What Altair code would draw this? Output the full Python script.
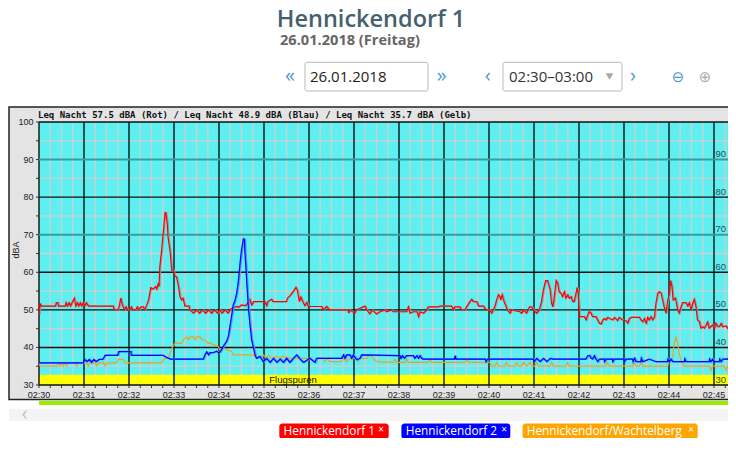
import altair as alt
import pandas as pd

# ---------------- data (seconds after 02:30:00, dBA) ----------------
red_t = [0, 1.5, 3, 22, 23, 25, 26, 35, 36, 38, 40, 42, 44, 47, 49, 51, 53, 55, 57, 59, 61, 63, 66, 99, 100, 105,
         107, 109, 111, 112, 114, 116, 118, 121, 123, 125, 129, 131, 133, 136, 139, 141, 143, 146, 149, 152, 155.5,
         157, 159, 160, 161, 163.5, 166, 168, 169, 171, 172, 175, 177, 179, 181, 183.5, 186, 188, 190, 192, 194.5,
         200, 201, 206, 210, 214, 218, 222, 226, 230, 234, 238, 241, 244, 248, 252, 254.5, 257, 263.5, 266, 270,
         275, 279, 281, 283.5, 286, 301, 303.5, 305, 310, 312, 330, 331, 334.5, 339, 342.5, 344.5, 347, 349, 351.5,
         354.5, 357, 359, 377, 379, 383.5, 387, 412, 413, 414, 421, 423, 434.5, 437, 441, 444, 450, 454.5, 461, 463,
         470, 472, 490, 492.5, 494.5, 499, 504, 506, 508, 512.5, 517, 519, 532.5, 534.5, 550, 552.5, 554.5, 561, 563,
         568, 570, 574.5, 577, 579, 583.5, 586, 592.5, 596, 601, 603.5, 606, 608, 610, 612.5, 614.5, 615.5, 617.5,
         620, 622.5, 624.5, 628, 630, 641, 643.5, 646, 650, 654, 657, 659, 663.5, 667, 670, 672.5, 675.5, 678, 681.5,
         683.5, 685, 686.5, 689.5, 691.5, 693.5, 696, 698, 700.5, 702.5, 705, 707, 709.5, 711.5, 713.5, 716, 717.5,
         719, 720.5, 727, 729.5, 731.5, 733.5, 736, 738, 742.5, 747, 749.5, 751.5, 753.5, 756, 758, 760.5, 765, 767,
         771.5, 773.5, 778, 782.5, 785, 787, 789.5, 800.5, 802.5, 805, 807, 809.5, 811.5, 813.5, 816, 818, 820.5,
         822.5, 825, 827, 829.5, 831.5, 833.5, 836, 838, 840.5, 842, 844, 845.5, 848.5, 850, 851.5, 853.5, 856, 858,
         862.5, 865, 867, 869.5, 871.5, 873.5, 876, 878, 880.5, 882.5, 885, 887, 889.5, 891.5, 893.5, 898, 900.5,
         902.5, 905, 907, 909.5, 911.5, 916, 918, 920.5, 922.5, 925, 927, 929.3]
red_v = [48.6, 51.7, 51.0, 51.0, 51.9, 51.9, 51.0, 51.0, 51.9, 51.0, 51.9, 51.0, 51.9, 53.1, 51.0, 51.9, 51.0, 51.9,
         51.0, 51.9, 51.0, 51.9, 51.0, 51.0, 50.0, 50.0, 51.0, 53.1, 51.5, 50.8, 50.0, 50.8, 50.0, 50.0, 50.8, 50.0,
         50.0, 50.8, 50.0, 50.8, 50.8, 50.0, 51.0, 52.6, 55.9, 55.5, 56.2, 55.5, 57.1, 56.2, 61.3, 66.0, 71.3, 75.9,
         75.9, 73.1, 69.5, 65.1, 60.6, 60.6, 59.0, 58.7, 56.2, 53.5, 52.6, 53.1, 51.0, 51.0, 50.0, 49.1, 50.0, 49.1,
         50.0, 49.1, 50.0, 49.1, 50.0, 49.1, 50.0, 49.1, 50.0, 49.1, 50.0, 50.4, 50.9, 50.7, 51.3, 51.1, 52.0, 52.8,
         51.3, 52.2, 52.2, 51.1, 52.2, 52.8, 52.2, 52.2, 53.1, 53.7, 54.9, 56.0, 55.2, 52.2, 53.4, 52.2, 51.1, 52.0,
         50.9, 50.9, 50.0, 50.9, 50.0, 50.0, 49.1, 50.0, 49.1, 50.0, 51.0, 50.0, 48.9, 50.0, 48.9, 49.5, 50.0, 49.5,
         50.0, 49.5, 49.5, 50.8, 49.1, 49.5, 49.5, 48.2, 49.5, 49.1, 50.0, 50.8, 50.8, 51.0, 51.0, 50.0, 50.8, 50.8,
         50.0, 50.0, 50.8, 52.2, 52.8, 52.2, 52.2, 51.0, 51.0, 50.0, 50.0, 49.1, 50.1, 51.0, 52.6, 54.0, 53.5, 52.6,
         54.0, 52.2, 51.0, 50.0, 49.1, 50.0, 49.5, 49.1, 50.0, 49.1, 50.8, 50.8, 50.0, 49.1, 50.0, 52.2, 55.3, 57.8,
         57.8, 55.3, 51.7, 50.8, 52.6, 57.8, 57.1, 54.8, 54.4, 53.5, 54.8, 53.1, 54.0, 53.1, 53.5, 52.2, 52.2, 54.4,
         56.0, 54.4, 48.2, 48.2, 47.3, 48.6, 49.5, 49.1, 48.2, 48.2, 46.4, 46.2, 47.3, 47.7, 47.3, 48.0, 47.7, 47.3,
         48.0, 47.1, 48.0, 47.3, 47.1, 46.4, 47.7, 48.0, 48.0, 47.3, 46.8, 47.7, 46.4, 48.0, 47.3, 48.2, 47.3, 48.0,
         51.7, 54.4, 54.8, 54.4, 52.6, 50.8, 49.1, 52.2, 54.4, 57.8, 56.2, 52.6, 53.1, 51.7, 50.0, 49.1, 50.8, 51.9,
         51.9, 51.0, 51.9, 50.0, 51.7, 52.8, 50.8, 47.3, 46.8, 45.1, 45.5, 45.1, 46.0, 46.8, 45.1, 46.0, 45.1, 46.4,
         45.5, 45.5, 46.4, 45.5, 45.7, 45.1, 45.5, 46.8, 47.7, 46.8, 46.4]

blue_t = [0, 59, 61, 64, 67, 70, 73, 76, 80, 85, 88, 105, 106, 122.5, 123, 165, 170, 175, 219, 221, 223.5, 226, 228,
          232, 237, 239, 241.5, 246, 250, 252.5, 254.5, 257, 259, 261.5, 263.5, 266, 268, 270, 272.5, 274, 274.5, 276,
          277, 279, 281.5, 283.5, 286, 288, 290, 294.5, 299, 303.5, 308, 312.5, 317, 321.5, 326, 330, 334.5, 339,
          343.5, 348, 352.5, 361, 368, 370, 403.5, 406, 408, 410, 414.5, 417, 419, 423.5, 428, 430, 481, 482.5, 484.5,
          487, 490, 499, 501, 503.5, 506, 508, 510, 512, 554, 554.7, 556, 595, 596, 598, 659, 660, 663.5, 668, 672.5,
          677, 681.5, 685, 729, 731.5, 734, 736, 738, 740.5, 742.5, 745, 747, 753.5, 754, 756, 764.5, 765, 767, 780,
          780.5, 782.5, 791.5, 792, 794, 796, 802.5, 803, 805, 813.5, 822.5, 838, 838.5, 840.5, 842.5, 845, 860.5,
          861, 862.5, 893.5, 894, 896, 898, 900.5, 907, 907.5, 909.5, 911.5, 918, 920.5, 922.5, 925, 927, 929.3]
blue_v = [35.9, 35.9, 36.8, 36.2, 36.8, 36.0, 36.8, 36.2, 36.8, 36.8, 37.9, 37.9, 38.9, 38.9, 37.9, 37.9, 37.3, 36.9,
          36.9, 38.0, 38.8, 38.0, 38.6, 38.6, 39.0, 38.6, 38.8, 40.4, 41.6, 43.0, 45.6, 48.7, 51.3, 52.7, 54.4, 58.0,
          62.4, 66.0, 68.9, 68.7, 65.3, 60.9, 57.3, 50.9, 45.6, 42.0, 39.8, 38.0, 37.1, 37.6, 36.2, 37.1, 36.0, 37.1,
          36.0, 36.9, 36.0, 37.1, 36.0, 37.1, 38.0, 36.9, 36.0, 37.1, 36.0, 37.1, 37.1, 38.0, 37.1, 38.0, 38.0, 37.1,
          38.0, 36.7, 37.1, 38.0, 37.8, 37.1, 37.8, 37.1, 37.8, 37.8, 37.1, 37.8, 37.1, 37.8, 37.1, 36.9, 36.9, 37.8,
          36.9, 36.9, 36.2, 36.9, 36.9, 36.2, 37.1, 36.2, 37.1, 36.2, 37.1, 36.9, 36.9, 37.8, 37.9, 37.1, 36.9, 37.8,
          36.9, 36.2, 36.9, 36.9, 36.2, 36.9, 36.9, 36.2, 36.9, 36.9, 36.2, 36.9, 36.9, 36.2, 37.1, 36.2, 36.2, 37.1,
          36.2, 36.9, 36.2, 36.2, 36.9, 36.2, 36.9, 36.2, 36.2, 36.9, 36.2, 36.2, 36.9, 36.2, 36.9, 36.2, 36.2, 36.9,
          36.2, 36.9, 36.9, 37.5, 40.2, 42.0, 43.3, 44.6]

orange_t = [0, 1.5, 23.5, 25.8, 28, 30.2, 32.4, 34.7, 37, 39, 48, 50.2, 52.4, 63.5, 65.8, 68, 74.7, 77, 79, 85.8, 88,
            90.2, 103.5, 105.8, 112.4, 114.7, 163.5, 165.8, 168, 172.4, 174.7, 177, 179, 181.3, 190.2, 192.4, 197,
            199, 201.3, 205.8, 208, 210.2, 214.7, 217, 221.3, 223.5, 225.8, 228, 230, 234.7, 239, 241.3, 245.8, 256.9,
            259.1, 285.8, 288, 290.2, 294.7, 296.9, 299.1, 303.5, 305.8, 310.2, 316.9, 321.3, 325.8, 334.7, 361.3,
            363.5, 365.8, 370.2, 372.4, 379.1, 381.3, 383.5, 388, 403.5, 405.8, 410.2, 414.7, 423.5, 426, 428, 436.9,
            441.3, 445.8, 450.2, 472.5, 474.7, 476.9, 488, 490.2, 492.5, 519, 521.3, 523.5, 568, 570.2, 572.4, 601.3,
            603.5, 608, 610.2, 612.5, 621.3, 623.5, 625.8, 634.7, 636.9, 639.1, 643.5, 645.8, 650.2, 654.7, 656.9,
            661.3, 663.5, 666, 681.3, 683.5, 685.8, 702.6, 704.8, 707, 756, 758, 760.4, 791.5, 793.7, 796, 800.4,
            802.6, 804.8, 838, 840.4, 844.8, 847, 849.3, 851.5, 853.7, 856, 858, 860.4, 893.7, 896, 898, 913.7, 916,
            918, 924.8, 927, 929.3]
orange_v = [35.9, 35.1, 35.0, 35.9, 35.0, 35.9, 35.0, 35.9, 35.0, 35.9, 35.9, 35.0, 35.9, 35.9, 35.0, 35.9, 35.9,
            35.0, 35.9, 35.9, 35.0, 35.9, 35.9, 36.8, 36.8, 35.9, 35.9, 36.6, 37.1, 37.1, 38.4, 39.7, 40.4, 41.1,
            41.1, 42.0, 42.8, 42.0, 42.8, 42.8, 42.0, 42.8, 42.8, 42.0, 42.0, 41.5, 41.1, 41.3, 40.9, 40.7, 40.2,
            39.3, 39.7, 38.9, 38.0, 38.0, 37.6, 37.1, 37.7, 37.1, 38.0, 37.1, 38.0, 37.1, 37.6, 37.1, 37.6, 37.1,
            37.1, 36.9, 36.2, 36.2, 37.1, 37.1, 36.2, 37.1, 36.2, 36.2, 37.1, 36.2, 37.1, 37.1, 36.2, 37.1, 37.1,
            38.0, 37.1, 36.2, 36.0, 36.9, 36.0, 36.0, 36.9, 36.0, 36.0, 36.9, 36.0, 36.0, 36.9, 36.0, 36.0, 35.0,
            35.0, 36.0, 35.0, 35.0, 36.0, 35.0, 35.0, 36.0, 35.0, 35.0, 36.0, 35.0, 36.0, 35.0, 35.0, 36.0, 35.0,
            35.0, 36.0, 35.0, 35.0, 36.0, 35.0, 35.0, 36.0, 35.0, 35.0, 36.0, 35.0, 35.0, 36.0, 35.0, 35.0, 36.2,
            37.5, 41.1, 42.9, 41.1, 38.4, 36.6, 35.7, 35.0, 35.0, 33.9, 35.0, 35.0, 33.9, 35.0, 35.0, 33.9, 33.9]

minute_ticks = list(range(0, 901, 60))
quarter_ticks = [s for s in range(15, 930, 15) if s % 60 != 0]
all_x_ticks = list(range(0, 930, 15))
db_label_ticks = list(range(30, 101, 10))
db_all_ticks = list(range(30, 101, 5))
db_black = [30, 40, 50, 60, 80, 100]
db_teal = [70, 90]
db_minor = [35, 45, 55, 65, 75, 85, 95]
right_labels = [30, 40, 50, 60, 70, 80, 90]
flug_lo, flug_hi = 30, 32.7
flug_label_t, flug_label_v = 307, 31.35

title_txt = "Hennickendorf 1"
subtitle_txt = "26.01.2018 (Freitag)"
strip_txt = "Leq Nacht 57.5 dBA (Rot) / Leq Nacht 48.9 dBA (Blau) / Leq Nacht 35.7 dBA (Gelb)"
legend_names = ["Hennickendorf 1", "Hennickendorf 2", "Hennickendorf/Wachtelberg"]
legend_cols = ["#ff0000", "#0000ff", "#ffa500"]

# plot area: 45 px per minute; the page cuts the plot at the right edge
W, H = 689, 263
X_MAX = W * 60 / 45
xs = alt.Scale(domain=[0, X_MAX], nice=False, zero=False)
ys = alt.Scale(domain=[30, 100], nice=False, zero=False)
one = pd.DataFrame({"k": [0]})


def box(x, x2, y, y2, **kw):
    return alt.Chart(one).mark_rect(**kw).encode(
        x=alt.value(x), x2=alt.value(x2), y=alt.value(y), y2=alt.value(y2))


def label(text, x, y, **kw):
    return alt.Chart(one).mark_text(text=text, **kw).encode(x=alt.value(x), y=alt.value(y))


def series(t, v):
    return pd.DataFrame({"t": t, "v": v})


X = lambda f="t:Q": alt.X(f, scale=xs, axis=None)
Y = lambda f="v:Q": alt.Y(f, scale=ys, axis=None)

layers = []
# frame + plot background
layers.append(box(-30, W + 12, -15, 277.5, fill="#e4e4e4", stroke="#222222", strokeWidth=1.5))
layers.append(box(0, W, 0, H, fill="#5ef0f0"))
# minor grid
layers.append(alt.Chart(pd.DataFrame({"t": quarter_ticks})).mark_rule(color="#cfcfcf", strokeWidth=1.3).encode(
    x=X(), y=alt.value(0), y2=alt.value(H)))
layers.append(alt.Chart(pd.DataFrame({"v": db_minor})).mark_rule(color="#cfcfcf", strokeWidth=1.3).encode(
    y=Y(), x=alt.value(0), x2=alt.value(W)))
# Flugspuren band
layers.append(alt.Chart(pd.DataFrame({"lo": [flug_lo], "hi": [flug_hi]})).mark_rect(color="#ffff00").encode(
    x=alt.value(0), x2=alt.value(W), y=Y("lo:Q"), y2="hi:Q"))
# major grid
layers.append(alt.Chart(pd.DataFrame({"t": minute_ticks})).mark_rule(color="#111111", strokeWidth=1.4).encode(
    x=X(), y=alt.value(0), y2=alt.value(H)))
layers.append(alt.Chart(pd.DataFrame({"v": db_black})).mark_rule(color="#111111", strokeWidth=1.4).encode(
    y=Y(), x=alt.value(0), x2=alt.value(W)))
layers.append(alt.Chart(pd.DataFrame({"v": db_teal})).mark_rule(color="#3c9c9c", strokeWidth=2).encode(
    y=Y(), x=alt.value(0), x2=alt.value(W)))

# axis ticks and labels
layers.append(alt.Chart(pd.DataFrame({"t": all_x_ticks})).mark_rule(color="#333333", strokeWidth=1).encode(
    x=X(), y=alt.value(H), y2=alt.value(H + 3)))
layers.append(alt.Chart(pd.DataFrame({"v": db_all_ticks})).mark_rule(color="#333333", strokeWidth=1).encode(
    y=Y(), x=alt.value(-3), x2=alt.value(0)))
layers.append(alt.Chart(pd.DataFrame({"t": minute_ticks})).transform_calculate(
    lab="'02:' + (30 + datum.t / 60)").mark_text(
    align="center", baseline="middle", font="Liberation Sans", fontSize=9, color="#222222").encode(
    x=X(), y=alt.value(H + 9.5), text="lab:N"))
layers.append(alt.Chart(pd.DataFrame({"v": db_label_ticks})).mark_text(
    align="right", baseline="middle", font="Liberation Sans", fontSize=9, color="#222222").encode(
    y=Y(), x=alt.value(-5.5), text="v:Q"))

# series lines
red = series(red_t, red_v)
blue = series(blue_t, blue_v)
orange = series(orange_t, orange_v)
layers.append(alt.Chart(red).mark_line(color="#9a9a9a", strokeWidth=1.2, xOffset=1, clip=True).encode(x=X(), y=Y()))
layers.append(alt.Chart(red).mark_line(color="#ff0000", strokeWidth=1.2, clip=True).encode(x=X(), y=Y()))
layers.append(alt.Chart(orange).mark_line(color="#f0a020", strokeWidth=1.2, clip=True).encode(x=X(), y=Y()))
layers.append(alt.Chart(blue).mark_line(color="#4a9cff", strokeWidth=1.6, xOffset=1, clip=True).encode(x=X(), y=Y()))
layers.append(alt.Chart(blue).mark_line(color="#0000ff", strokeWidth=1.2, clip=True).encode(x=X(), y=Y()))

# texts inside plot
layers.append(alt.Chart(pd.DataFrame({"t": [flug_label_t], "v": [flug_label_v]})).mark_text(
    text="Flugspuren", align="left", baseline="middle", font="Liberation Sans", fontSize=9.5, color="#111111"
).encode(x=X(), y=Y()))
layers.append(alt.Chart(pd.DataFrame({"v": right_labels})).mark_text(
    align="left", baseline="alphabetic", dy=-2.5, font="Liberation Sans", fontSize=9.5, color="#2a4f4f"
).encode(x=alt.value(676.5), y=Y(), text="v:Q"))
layers.append(label(strip_txt, -1, -7.5, align="left", baseline="middle", font="DejaVu Sans Mono",
                    fontSize=9, fontWeight="bold", color="#111111"))
layers.append(label("dBA", -23, 128, angle=270, align="center", baseline="middle", font="Liberation Sans",
                    fontSize=9, color="#222222"))

# green bar + scroll strip
layers.append(box(0, W, 279, 283, fill="#99ee00"))
layers.append(box(-30, W, 287, 299, fill="#f4f4f4"))
layers.append(label("‹", -14.5, 292, align="center", baseline="middle", font="Open Sans", fontSize=20,
                    color="#c4c4c4"))

# legend pills
pill_x = [(240.3, 349.7, 381 - 39), (362.4, 471.3, 504 - 39), (483.5, 658.7, 691 - 39)]
py0, py1 = 301.5, 317
for name, col, (a, b, cx) in zip(legend_names, legend_cols, pill_x):
    layers.append(box(a, b, py0, py1, fill=col, cornerRadius=3))
    layers.append(label(name, a + 4.3, (py0 + py1) / 2, align="left", baseline="middle", font="Open Sans",
                        fontSize=11.8, color="white"))
    layers.append(label("×", cx, (py0 + py1) / 2 - 1.5, align="center", baseline="middle", font="Open Sans",
                        fontSize=10, color="white"))

# header
layers.append(label(title_txt, 332, -95.5, align="center", baseline="alphabetic", font="Open Sans",
                    fontSize=23.5, fontWeight=600, color="#46606e"))
layers.append(label(subtitle_txt, 241, -77, align="left", baseline="alphabetic", font="Open Sans",
                    fontSize=14.6, fontWeight="bold", color="#666666"))
layers.append(box(266, 389, -59.7, -31, fill="white", stroke="#b8b8b8", strokeWidth=1, cornerRadius=2))
layers.append(box(464, 583, -59.7, -31, fill="white", stroke="#b8b8b8", strokeWidth=1, cornerRadius=2))
layers.append(label("26.01.2018", 271, -45, align="left", baseline="middle", font="Open Sans",
                    fontSize=15, color="#222222"))
layers.append(label("02:30–03:00", 470, -45, align="left", baseline="middle", font="Open Sans",
                    fontSize=15, color="#333333"))
layers.append(alt.Chart(one).mark_point(shape="triangle-down", filled=True, size=60, color="#a8a8a8",
                                        opacity=1).encode(x=alt.value(570.5), y=alt.value(-45.5)))
nav_blue = "#4a9ad4"
layers.append(label("«", 251, -46, align="center", baseline="middle", font="Open Sans", fontSize=20, color=nav_blue))
layers.append(label("»", 402.8, -46, align="center", baseline="middle", font="Open Sans", fontSize=20, color=nav_blue))
layers.append(label("‹", 448.8, -46, align="center", baseline="middle", font="Open Sans", fontSize=20, color=nav_blue))
layers.append(label("›", 594, -46, align="center", baseline="middle", font="Open Sans", fontSize=20, color=nav_blue))
layers.append(label("⊖", 639, -45, align="center", baseline="middle", font="DejaVu Sans", fontSize=15, color=nav_blue))
layers.append(label("⊕", 666, -45, align="center", baseline="middle", font="DejaVu Sans", fontSize=15,
                    color="#aaaaaa"))

chart = alt.layer(*layers).properties(
    width=W, height=H,
    autosize=alt.AutoSizeParams(type="none"),
    padding={"left": 31, "top": 114, "right": 0, "bottom": 53},
).configure_view(stroke=None)

chart.save("out.html", embed_options={"renderer": "svg", "actions": False})
